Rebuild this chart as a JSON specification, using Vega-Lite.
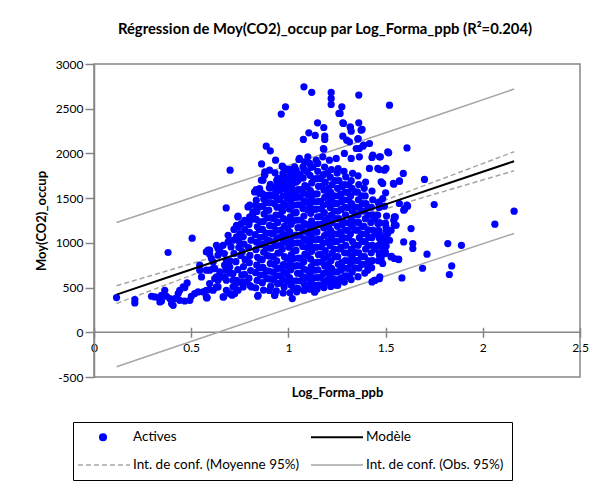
{
"$schema":"https://vega.github.io/schema/vega-lite/v6.json",
"autosize":{"type":"none"},
"width":486,"height":313,
"padding":{"left":94,"top":64,"right":22,"bottom":110},
"background":"white",
"config":{"font":"Lato","view":{"stroke":"#868686","strokeWidth":1.5},
"axisY":{"grid":false,"domainColor":"#868686","domainWidth":1.5,"tickColor":"#868686","tickWidth":1.5,"tickSize":9,"labelFontSize":12,"labelColor":"black","labelPadding":2,"titleFontSize":13,"titleFontWeight":"bold","titleColor":"black","titlePadding":7},
"axisX":{"grid":false,"domain":false,"tickColor":"#868686","tickWidth":1.5,"tickSize":10,"labelFontSize":12,"labelColor":"black","labelPadding":5,"titleFontSize":13,"titleFontWeight":"bold","titleColor":"black","titlePadding":33}},
"title":{"text":"Régression de Moy(CO2)_occup par Log_Forma_ppb (R²=0.204)","fontSize":14.8,"fontWeight":"bold","font":"Lato","color":"black","anchor":"middle","dx":-12,"offset":21},
"datasets":{
"zero":[{"x":0,"x2":2.5,"v":0}],
"fit":[
{"x":0.116,"mod":421.6,"mlo":322,"mhi":521,"olo":-385,"ohi":1228},
{"x":0.4,"mod":628.6,"mlo":555,"mhi":702,"olo":-175,"ohi":1432},
{"x":0.7,"mod":847.3,"mlo":799,"mhi":896,"olo":46,"ohi":1649},
{"x":0.9,"mod":993.1,"mlo":958,"mhi":1028,"olo":192,"ohi":1794},
{"x":1.1,"mod":1138.9,"mlo":1110,"mhi":1168,"olo":338,"ohi":1939},
{"x":1.3,"mod":1284.7,"mlo":1250,"mhi":1320,"olo":484,"ohi":2085},
{"x":1.5,"mod":1430.5,"mlo":1382,"mhi":1479,"olo":629,"ohi":2232},
{"x":1.8,"mod":1649.2,"mlo":1576,"mhi":1723,"olo":846,"ohi":2453},
{"x":2.161,"mod":1912.4,"mlo":1806,"mhi":2019,"olo":1105,"ohi":2720}
],
"pts":[
{"x":0.116,"y":388},{"x":0.21,"y":366},{"x":0.21,"y":328},{"x":0.296,"y":403},{"x":0.313,"y":395},{"x":0.335,"y":388},{"x":0.347,"y":414},{"x":0.364,"y":470},{"x":0.373,"y":403},{"x":0.39,"y":377},{"x":0.347,"y":350},{"x":0.339,"y":339},{"x":0.399,"y":321},{"x":0.407,"y":302},{"x":0.416,"y":377},{"x":0.433,"y":433},{"x":0.441,"y":470},{"x":0.459,"y":507},{"x":0.479,"y":552},{"x":0.467,"y":500},{"x":0.441,"y":358},{"x":0.467,"y":350},{"x":0.493,"y":358},{"x":0.501,"y":403},{"x":0.518,"y":433},{"x":0.535,"y":451},{"x":0.561,"y":451},{"x":0.578,"y":470},{"x":0.595,"y":477},{"x":0.582,"y":388},{"x":0.613,"y":470},{"x":0.63,"y":507},{"x":0.638,"y":582},{"x":0.63,"y":619},{"x":0.621,"y":713},{"x":0.595,"y":694},{"x":0.544,"y":694},{"x":0.553,"y":619},{"x":0.613,"y":787},{"x":0.604,"y":825},{"x":0.578,"y":899},{"x":0.595,"y":918},{"x":0.647,"y":918},{"x":0.638,"y":862},{"x":0.381,"y":892},{"x":0.505,"y":1052},
{"x":0.63,"y":973},{"x":0.67,"y":881},{"x":0.681,"y":806},{"x":0.678,"y":694},{"x":0.698,"y":731},{"x":0.656,"y":619},{"x":0.681,"y":582},{"x":0.715,"y":657},{"x":0.733,"y":582},{"x":0.715,"y":507},{"x":0.698,"y":433},{"x":0.741,"y":470},{"x":0.69,"y":1085},{"x":0.698,"y":1029},{"x":0.733,"y":1066},{"x":0.75,"y":1104},{"x":0.741,"y":1178},{"x":0.775,"y":1253},{"x":0.801,"y":1290},{"x":0.818,"y":1346},{"x":0.792,"y":1402},{"x":0.835,"y":1477},{"x":0.826,"y":1570},{"x":0.852,"y":1589},{"x":0.869,"y":1701},{"x":0.878,"y":1757},{"x":0.879,"y":1794},{"x":0.903,"y":1813},{"x":0.931,"y":1783},{"x":0.972,"y":1776},{"x":0.946,"y":1720},{"x":0.963,"y":1682},{"x":1.006,"y":1738},{"x":1.023,"y":1664},{"x":1.049,"y":1701},{"x":1.04,"y":1813},{"x":1.075,"y":1850},{"x":1.109,"y":1888},{"x":1.143,"y":1925},{"x":1.177,"y":1962},{"x":1.211,"y":1925},{"x":1.246,"y":1944},{"x":1.054,"y":1932},{"x":1.1,"y":1962},
{"x":0.70,"y":1813},{"x":0.68,"y":1391},{"x":0.74,"y":1290},{"x":1.08,"y":2745},{"x":1.12,"y":2683},{"x":0.985,"y":2521},{"x":0.963,"y":2440},{"x":0.886,"y":2081},{"x":0.907,"y":2029},{"x":0.862,"y":1883},{"x":0.934,"y":1925},{"x":0.968,"y":1857},{"x":1.006,"y":1821},{"x":1.15,"y":2342},{"x":1.105,"y":2230},{"x":1.138,"y":2201},{"x":1.077,"y":2156},{"x":1.187,"y":2193},{"x":1.187,"y":2156},{"x":1.18,"y":2055},{"x":1.22,"y":2682},{"x":1.22,"y":2615},{"x":1.22,"y":2548},{"x":1.26,"y":2447},
{"x":0.842,"y":403},{"x":0.93,"y":414},{"x":1.02,"y":377},{"x":1.136,"y":451},{"x":1.247,"y":526},{"x":0.71,"y":414},{"x":0.667,"y":395},{"x":0.58,"y":384},
{"x":1.362,"y":2652},{"x":1.52,"y":2540},{"x":1.275,"y":2521},{"x":1.266,"y":2447},{"x":1.28,"y":2342},{"x":1.318,"y":2297},{"x":1.323,"y":2249},{"x":1.379,"y":2268},{"x":1.362,"y":2342},{"x":1.28,"y":2193},{"x":1.30,"y":2148},{"x":1.314,"y":2130},{"x":1.359,"y":2167},{"x":1.387,"y":2093},{"x":1.365,"y":2055},{"x":1.516,"y":2007},{"x":1.61,"y":2062},{"x":1.473,"y":1962},{"x":1.43,"y":1955},{"x":1.591,"y":1776},{"x":1.571,"y":1693},{"x":1.542,"y":1656},{"x":1.70,"y":1709},{"x":1.75,"y":1429},{"x":1.61,"y":1421},{"x":1.598,"y":1384},{"x":1.593,"y":1365},{"x":1.55,"y":1290},{"x":1.542,"y":1253},{"x":1.554,"y":1197},{"x":1.631,"y":1160},{"x":1.593,"y":1010},{"x":1.64,"y":992},{"x":1.64,"y":937},{"x":1.713,"y":873},{"x":1.82,"y":992},{"x":1.89,"y":973},{"x":1.84,"y":742},{"x":1.828,"y":646},{"x":1.69,"y":716},{"x":1.584,"y":608},{"x":2.062,"y":1209},{"x":2.161,"y":1354},{"x":1.468,"y":1223},{"x":1.516,"y":1130},{"x":1.485,"y":937},{"x":1.53,"y":850},{"x":1.567,"y":817},{"x":1.43,"y":563},{"x":1.447,"y":582},{"x":1.47,"y":619},{"x":1.254,"y":526},{"x":1.187,"y":552},{"x":1.134,"y":451},
{"x":1.182,"y":2290},{"x":1.283,"y":2335},{"x":1.319,"y":2290},{"x":1.374,"y":2260},{"x":1.357,"y":2160},{"x":1.349,"y":2055},{"x":1.383,"y":2081},{"x":1.417,"y":2111},{"x":1.182,"y":2048},{"x":1.057,"y":1944},{"x":1.083,"y":1906},{"x":1.032,"y":1850},{"x":1.126,"y":1850},{"x":1.151,"y":1888},{"x":1.288,"y":2000},{"x":1.323,"y":1944},{"x":1.365,"y":1962},{"x":1.434,"y":1981},{"x":1.468,"y":1962},{"x":1.511,"y":2017},{"x":1.417,"y":1832},{"x":1.46,"y":1832},{"x":1.494,"y":1813},
{"x":0.741,"y":1298},{"x":0.733,"y":1197},{"x":0.758,"y":1216},{"x":0.784,"y":1234},{"x":0.801,"y":1421},{"x":0.818,"y":1328},{"x":0.715,"y":1029},{"x":0.69,"y":1010},{"x":0.664,"y":973},{"x":0.638,"y":937},{"x":0.587,"y":918},{"x":0.595,"y":873},{"x":0.544,"y":750},{"x":0.578,"y":694},{"x":0.613,"y":713},{"x":0.647,"y":675},{"x":0.672,"y":750},{"x":0.621,"y":600},{"x":0.672,"y":619},{"x":0.715,"y":582},{"x":0.595,"y":545},{"x":0.638,"y":507},{"x":0.681,"y":470},{"x":0.724,"y":433},{"x":0.578,"y":395},{"x":0.664,"y":395},{"x":0.767,"y":507},{"x":0.784,"y":563},{"x":0.81,"y":507},{"x":0.844,"y":414},{"x":0.929,"y":414},
{"x":1.083,"y":470},{"x":1.186,"y":563},{"x":1.228,"y":590},{"x":1.314,"y":619},{"x":1.408,"y":694},{"x":1.442,"y":582},{"x":1.468,"y":600},{"x":1.417,"y":750},{"x":1.477,"y":806},{"x":1.468,"y":862},{"x":1.485,"y":955},{"x":1.502,"y":1029},{"x":1.46,"y":1216},{"x":1.468,"y":1104},{"x":1.494,"y":1029},{"x":1.477,"y":992},
{"x":1.502,"y":1832},{"x":1.468,"y":1820},{"x":1.477,"y":1682},{"x":1.485,"y":1664},{"x":1.5,"y":1559},{"x":1.485,"y":1496},{"x":1.468,"y":1458},{"x":1.494,"y":1410},{"x":1.571,"y":1440},{"x":1.597,"y":1373},{"x":1.613,"y":1410},{"x":1.54,"y":1664},{"x":1.571,"y":1690},{"x":1.545,"y":1290},{"x":1.545,"y":1197},{"x":1.528,"y":1141},{"x":1.502,"y":1178},{"x":1.511,"y":1104},{"x":1.494,"y":1066},{"x":1.52,"y":1029},{"x":1.477,"y":1010},{"x":1.499,"y":899},{"x":1.477,"y":843},{"x":1.528,"y":843},{"x":1.545,"y":825},{"x":1.567,"y":813},{"x":1.485,"y":769},
{"x":0.972,"y":1850},{"x":0.992,"y":1821},{"x":1.015,"y":1805},{"x":0.878,"y":1768},{"x":0.861,"y":1701},{"x":0.852,"y":1608},{"x":0.835,"y":1596},{"x":0.852,"y":1552},{"x":0.963,"y":1701},{"x":0.972,"y":1608},{"x":1.006,"y":1645},{"x":1.032,"y":1738},{"x":1.049,"y":1701},{"x":0.955,"y":1589},{"x":0.997,"y":1552},{"x":0.903,"y":1533},{"x":1.04,"y":1533},{"x":0.938,"y":1514},
{"x":0.70,"y":800},{"x":0.72,"y":880},{"x":0.745,"y":950},{"x":0.705,"y":955},{"x":0.73,"y":790},{"x":0.755,"y":860},{"x":0.745,"y":1020},{"x":0.72,"y":1150},{"x":0.70,"y":660},{"x":0.74,"y":700},{"x":0.76,"y":640},{"x":0.75,"y":560},{"x":0.725,"y":510},
{"x":0.766,"y":565},{"x":0.774,"y":648},{"x":0.769,"y":735},{"x":0.777,"y":812},{"x":0.763,"y":902},{"x":0.772,"y":985},{"x":0.768,"y":1070},{"x":0.775,"y":1148},
{"x":0.803,"y":522},{"x":0.797,"y":605},{"x":0.806,"y":690},{"x":0.799,"y":778},{"x":0.802,"y":860},{"x":0.795,"y":948},{"x":0.808,"y":1030},{"x":0.8,"y":1118},{"x":0.797,"y":1205},{"x":0.805,"y":1255},
{"x":0.832,"y":498},{"x":0.839,"y":580},{"x":0.83,"y":668},{"x":0.837,"y":752},{"x":0.841,"y":838},{"x":0.833,"y":925},{"x":0.836,"y":1008},{"x":0.829,"y":1092},{"x":0.84,"y":1180},{"x":0.834,"y":1262},{"x":0.838,"y":1350},{"x":0.831,"y":1418},
{"x":0.872,"y":472},{"x":0.866,"y":555},{"x":0.874,"y":642},{"x":0.869,"y":725},{"x":0.865,"y":812},{"x":0.873,"y":895},{"x":0.87,"y":982},{"x":0.876,"y":1068},{"x":0.867,"y":1150},{"x":0.871,"y":1238},{"x":0.875,"y":1322},{"x":0.868,"y":1410},{"x":0.873,"y":1490},{"x":0.866,"y":1552},
{"x":0.902,"y":468},{"x":0.909,"y":515},{"x":0.904,"y":598},{"x":0.9,"y":685},{"x":0.907,"y":770},{"x":0.903,"y":852},{"x":0.91,"y":940},{"x":0.901,"y":1025},{"x":0.906,"y":1110},{"x":0.903,"y":1195},{"x":0.908,"y":1280},{"x":0.899,"y":1365},{"x":0.905,"y":1450},{"x":0.911,"y":1535},{"x":0.902,"y":1615},{"x":0.907,"y":1655},
{"x":0.938,"y":462},{"x":0.944,"y":545},{"x":0.937,"y":630},{"x":0.943,"y":712},{"x":0.94,"y":798},{"x":0.946,"y":885},{"x":0.935,"y":970},{"x":0.942,"y":1055},{"x":0.939,"y":1140},{"x":0.945,"y":1228},{"x":0.936,"y":1310},{"x":0.941,"y":1398},{"x":0.947,"y":1482},{"x":0.938,"y":1568},{"x":0.943,"y":1650},{"x":0.94,"y":1700},
{"x":0.973,"y":440},{"x":0.978,"y":505},{"x":0.971,"y":590},{"x":0.977,"y":675},{"x":0.974,"y":758},{"x":0.98,"y":845},{"x":0.969,"y":930},{"x":0.976,"y":1015},{"x":0.972,"y":1100},{"x":0.979,"y":1185},{"x":0.975,"y":1270},{"x":0.97,"y":1355},{"x":0.977,"y":1440},{"x":0.973,"y":1525},{"x":0.98,"y":1610},{"x":0.971,"y":1695},{"x":0.976,"y":1750},
{"x":1.008,"y":442},{"x":1.013,"y":528},{"x":1.006,"y":612},{"x":1.012,"y":698},{"x":1.009,"y":782},{"x":1.015,"y":868},{"x":1.004,"y":952},{"x":1.011,"y":1038},{"x":1.007,"y":1122},{"x":1.014,"y":1208},{"x":1.01,"y":1292},{"x":1.005,"y":1378},{"x":1.012,"y":1462},{"x":1.008,"y":1548},{"x":1.015,"y":1632},{"x":1.006,"y":1718},{"x":1.011,"y":1778},
{"x":1.043,"y":452},{"x":1.048,"y":490},{"x":1.041,"y":575},{"x":1.047,"y":660},{"x":1.044,"y":745},{"x":1.05,"y":830},{"x":1.039,"y":915},{"x":1.046,"y":1000},{"x":1.042,"y":1085},{"x":1.049,"y":1170},{"x":1.045,"y":1255},{"x":1.04,"y":1340},{"x":1.047,"y":1425},{"x":1.043,"y":1510},{"x":1.05,"y":1595},{"x":1.041,"y":1680},{"x":1.046,"y":1765},
{"x":1.078,"y":470},{"x":1.083,"y":535},{"x":1.076,"y":620},{"x":1.082,"y":705},{"x":1.079,"y":790},{"x":1.085,"y":875},{"x":1.074,"y":960},{"x":1.081,"y":1045},{"x":1.077,"y":1130},{"x":1.084,"y":1215},{"x":1.08,"y":1300},{"x":1.075,"y":1385},{"x":1.082,"y":1470},{"x":1.078,"y":1555},{"x":1.085,"y":1640},{"x":1.076,"y":1725},{"x":1.081,"y":1815},
{"x":1.113,"y":482},{"x":1.118,"y":565},{"x":1.111,"y":650},{"x":1.117,"y":735},{"x":1.114,"y":820},{"x":1.12,"y":905},{"x":1.109,"y":990},{"x":1.116,"y":1075},{"x":1.112,"y":1160},{"x":1.119,"y":1245},{"x":1.115,"y":1330},{"x":1.11,"y":1415},{"x":1.117,"y":1500},{"x":1.113,"y":1585},{"x":1.12,"y":1670},{"x":1.111,"y":1755},{"x":1.116,"y":1845},
{"x":1.148,"y":485},{"x":1.153,"y":528},{"x":1.146,"y":612},{"x":1.152,"y":698},{"x":1.149,"y":782},{"x":1.155,"y":868},{"x":1.144,"y":952},{"x":1.151,"y":1038},{"x":1.147,"y":1122},{"x":1.154,"y":1208},{"x":1.15,"y":1292},{"x":1.145,"y":1378},{"x":1.152,"y":1462},{"x":1.148,"y":1548},{"x":1.155,"y":1632},{"x":1.146,"y":1718},{"x":1.151,"y":1800},
{"x":1.183,"y":500},{"x":1.188,"y":572},{"x":1.181,"y":658},{"x":1.187,"y":742},{"x":1.184,"y":828},{"x":1.19,"y":912},{"x":1.179,"y":998},{"x":1.186,"y":1082},{"x":1.182,"y":1168},{"x":1.189,"y":1252},{"x":1.185,"y":1338},{"x":1.18,"y":1422},{"x":1.187,"y":1508},{"x":1.183,"y":1592},{"x":1.19,"y":1678},{"x":1.181,"y":1762},{"x":1.186,"y":1848},
{"x":1.218,"y":512},{"x":1.223,"y":545},{"x":1.216,"y":630},{"x":1.222,"y":715},{"x":1.219,"y":800},{"x":1.225,"y":885},{"x":1.214,"y":970},{"x":1.221,"y":1055},{"x":1.217,"y":1140},{"x":1.224,"y":1225},{"x":1.22,"y":1310},{"x":1.215,"y":1395},{"x":1.222,"y":1480},{"x":1.218,"y":1565},{"x":1.225,"y":1650},{"x":1.216,"y":1735},{"x":1.221,"y":1820},
{"x":1.253,"y":540},{"x":1.258,"y":590},{"x":1.251,"y":675},{"x":1.257,"y":760},{"x":1.254,"y":845},{"x":1.26,"y":930},{"x":1.249,"y":1015},{"x":1.256,"y":1100},{"x":1.252,"y":1185},{"x":1.259,"y":1270},{"x":1.255,"y":1355},{"x":1.25,"y":1440},{"x":1.257,"y":1525},{"x":1.253,"y":1610},{"x":1.26,"y":1695},{"x":1.251,"y":1780},{"x":1.256,"y":1830},
{"x":1.288,"y":562},{"x":1.293,"y":632},{"x":1.286,"y":718},{"x":1.292,"y":802},{"x":1.289,"y":888},{"x":1.295,"y":972},{"x":1.284,"y":1058},{"x":1.291,"y":1142},{"x":1.287,"y":1228},{"x":1.294,"y":1312},{"x":1.29,"y":1398},{"x":1.285,"y":1482},{"x":1.292,"y":1568},{"x":1.288,"y":1652},{"x":1.295,"y":1738},{"x":1.286,"y":1800},
{"x":1.323,"y":590},{"x":1.328,"y":675},{"x":1.321,"y":760},{"x":1.327,"y":845},{"x":1.324,"y":930},{"x":1.33,"y":1015},{"x":1.319,"y":1100},{"x":1.326,"y":1185},{"x":1.322,"y":1270},{"x":1.329,"y":1355},{"x":1.325,"y":1440},{"x":1.32,"y":1525},{"x":1.327,"y":1610},{"x":1.323,"y":1695},{"x":1.33,"y":1778},
{"x":1.358,"y":622},{"x":1.363,"y":718},{"x":1.356,"y":802},{"x":1.362,"y":888},{"x":1.359,"y":972},{"x":1.365,"y":1058},{"x":1.354,"y":1142},{"x":1.361,"y":1228},{"x":1.357,"y":1312},{"x":1.364,"y":1398},{"x":1.36,"y":1482},{"x":1.355,"y":1568},{"x":1.362,"y":1652},{"x":1.358,"y":1750},
{"x":1.393,"y":662},{"x":1.398,"y":760},{"x":1.391,"y":845},{"x":1.397,"y":930},{"x":1.394,"y":1015},{"x":1.4,"y":1100},{"x":1.389,"y":1185},{"x":1.396,"y":1270},{"x":1.392,"y":1355},{"x":1.399,"y":1440},{"x":1.395,"y":1525},{"x":1.39,"y":1610},{"x":1.397,"y":1680},
{"x":1.428,"y":722},{"x":1.433,"y":802},{"x":1.426,"y":888},{"x":1.432,"y":972},{"x":1.429,"y":1058},{"x":1.435,"y":1142},{"x":1.424,"y":1228},{"x":1.431,"y":1312},{"x":1.427,"y":1398},{"x":1.434,"y":1482},{"x":1.43,"y":1580},
{"x":1.463,"y":800},{"x":1.468,"y":885},{"x":1.461,"y":970},{"x":1.467,"y":1055},{"x":1.464,"y":1140},{"x":1.47,"y":1225},{"x":1.459,"y":1310},{"x":1.466,"y":1395},{"x":1.462,"y":1450},
{"x":1.498,"y":880},{"x":1.503,"y":965},{"x":1.496,"y":1050},{"x":1.502,"y":1135},{"x":1.499,"y":1220},{"x":1.505,"y":1300},
{"x":0.855,"y":640},{"x":0.851,"y":722},{"x":0.856,"y":812},{"x":0.852,"y":980},{"x":0.857,"y":1062},{"x":0.85,"y":1150},{"x":0.854,"y":1236},{"x":0.853,"y":1405},
{"x":0.889,"y":600},{"x":0.886,"y":688},{"x":0.891,"y":858},{"x":0.887,"y":940},{"x":0.89,"y":1030},{"x":0.885,"y":1110},{"x":0.892,"y":1280},{"x":0.888,"y":1362},{"x":0.886,"y":1452},{"x":0.89,"y":1530},
{"x":0.923,"y":590},{"x":0.921,"y":672},{"x":0.926,"y":760},{"x":0.922,"y":845},{"x":0.925,"y":1012},{"x":0.92,"y":1100},{"x":0.924,"y":1185},{"x":0.922,"y":1272},{"x":0.927,"y":1440},{"x":0.921,"y":1525},{"x":0.925,"y":1610},
{"x":0.958,"y":550},{"x":0.955,"y":632},{"x":0.96,"y":718},{"x":0.956,"y":888},{"x":0.959,"y":972},{"x":0.954,"y":1058},{"x":0.961,"y":1142},{"x":0.957,"y":1312},{"x":0.959,"y":1398},{"x":0.955,"y":1482},{"x":0.96,"y":1650},
{"x":0.993,"y":570},{"x":0.99,"y":655},{"x":0.995,"y":740},{"x":0.991,"y":825},{"x":0.994,"y":995},{"x":0.989,"y":1080},{"x":0.996,"y":1165},{"x":0.992,"y":1250},{"x":0.99,"y":1420},{"x":0.995,"y":1505},{"x":0.991,"y":1590},{"x":0.994,"y":1675},
{"x":1.028,"y":490},{"x":1.025,"y":572},{"x":1.03,"y":740},{"x":1.026,"y":825},{"x":1.029,"y":910},{"x":1.024,"y":995},{"x":1.031,"y":1080},{"x":1.027,"y":1250},{"x":1.029,"y":1335},{"x":1.025,"y":1420},{"x":1.03,"y":1505},{"x":1.026,"y":1590},
{"x":1.063,"y":575},{"x":1.06,"y":660},{"x":1.065,"y":745},{"x":1.061,"y":830},{"x":1.064,"y":1000},{"x":1.059,"y":1085},{"x":1.066,"y":1170},{"x":1.062,"y":1255},{"x":1.064,"y":1425},{"x":1.06,"y":1510},{"x":1.065,"y":1595},{"x":1.061,"y":1765},
{"x":1.098,"y":520},{"x":1.095,"y":605},{"x":1.1,"y":690},{"x":1.096,"y":860},{"x":1.099,"y":945},{"x":1.094,"y":1030},{"x":1.101,"y":1115},{"x":1.097,"y":1200},{"x":1.099,"y":1370},{"x":1.095,"y":1455},{"x":1.1,"y":1540},{"x":1.096,"y":1625},{"x":1.098,"y":1790},
{"x":1.133,"y":525},{"x":1.13,"y":610},{"x":1.135,"y":695},{"x":1.131,"y":780},{"x":1.134,"y":950},{"x":1.129,"y":1035},{"x":1.136,"y":1120},{"x":1.132,"y":1205},{"x":1.134,"y":1375},{"x":1.13,"y":1460},{"x":1.135,"y":1545},{"x":1.131,"y":1715},
{"x":1.168,"y":530},{"x":1.165,"y":615},{"x":1.17,"y":785},{"x":1.166,"y":870},{"x":1.169,"y":955},{"x":1.164,"y":1040},{"x":1.171,"y":1210},{"x":1.167,"y":1295},{"x":1.169,"y":1380},{"x":1.165,"y":1465},{"x":1.17,"y":1635},{"x":1.166,"y":1720},
{"x":1.203,"y":590},{"x":1.2,"y":675},{"x":1.205,"y":760},{"x":1.201,"y":845},{"x":1.204,"y":1015},{"x":1.199,"y":1100},{"x":1.206,"y":1185},{"x":1.202,"y":1270},{"x":1.204,"y":1440},{"x":1.2,"y":1525},{"x":1.205,"y":1610},{"x":1.201,"y":1780},
{"x":1.238,"y":590},{"x":1.235,"y":675},{"x":1.24,"y":845},{"x":1.236,"y":930},{"x":1.239,"y":1015},{"x":1.234,"y":1100},{"x":1.241,"y":1270},{"x":1.237,"y":1355},{"x":1.239,"y":1440},{"x":1.235,"y":1525},{"x":1.24,"y":1695},
{"x":1.273,"y":610},{"x":1.27,"y":695},{"x":1.275,"y":780},{"x":1.271,"y":950},{"x":1.274,"y":1035},{"x":1.269,"y":1120},{"x":1.276,"y":1205},{"x":1.272,"y":1375},{"x":1.274,"y":1460},{"x":1.27,"y":1545},{"x":1.275,"y":1630},
{"x":1.308,"y":630},{"x":1.305,"y":715},{"x":1.31,"y":800},{"x":1.306,"y":885},{"x":1.309,"y":1055},{"x":1.304,"y":1140},{"x":1.311,"y":1225},{"x":1.307,"y":1395},{"x":1.309,"y":1480},{"x":1.305,"y":1565},{"x":1.31,"y":1650},
{"x":1.343,"y":720},{"x":1.34,"y":805},{"x":1.345,"y":890},{"x":1.341,"y":975},{"x":1.344,"y":1145},{"x":1.339,"y":1230},{"x":1.346,"y":1315},{"x":1.342,"y":1400},{"x":1.344,"y":1570},
{"x":1.378,"y":760},{"x":1.375,"y":845},{"x":1.38,"y":1015},{"x":1.376,"y":1100},{"x":1.379,"y":1185},{"x":1.374,"y":1355},{"x":1.381,"y":1440},{"x":1.377,"y":1525},
{"x":1.413,"y":800},{"x":1.41,"y":970},{"x":1.415,"y":1060},{"x":1.411,"y":1145},{"x":1.414,"y":1310},{"x":1.41,"y":1400},{"x":1.445,"y":930},{"x":1.447,"y":1100},{"x":1.444,"y":1270}
]},
"encoding":{"x":{"field":"x","type":"quantitative","scale":{"domain":[0,2.5],"nice":false,"zero":false},"title":"Log_Forma_ppb","axis":{"offset":-49.71,"values":[0,0.5,1,1.5,2,2.5],"labelExpr":"datum.value + ''","labelFlush":false}}},
"layer":[
{"data":{"name":"zero"},"mark":{"type":"rule","color":"#868686","strokeWidth":1.5},"encoding":{"x2":{"field":"x2"},"y":{"field":"v","type":"quantitative","scale":{"domain":[-500,3000],"nice":false},"title":"Moy(CO2)_occup","axis":{"values":[-500,0,500,1000,1500,2000,2500,3000],"labelExpr":"datum.value + ''"}}}},
{"data":{"name":"fit"},"mark":{"type":"line","strokeWidth":1.5,"color":"#a6a6a6"},"encoding":{"y":{"field":"ohi","type":"quantitative","scale":{"domain":[-500,3000],"nice":false},"title":"Moy(CO2)_occup","axis":{"values":[-500,0,500,1000,1500,2000,2500,3000],"labelExpr":"datum.value + ''"}}}},
{"data":{"name":"fit"},"mark":{"type":"line","strokeWidth":1.5,"color":"#a6a6a6"},"encoding":{"y":{"field":"olo","type":"quantitative","scale":{"domain":[-500,3000],"nice":false},"title":"Moy(CO2)_occup","axis":{"values":[-500,0,500,1000,1500,2000,2500,3000],"labelExpr":"datum.value + ''"}}}},
{"data":{"name":"fit"},"mark":{"type":"line","strokeWidth":1.5,"strokeDash":[5,3],"color":"#a6a6a6"},"encoding":{"y":{"field":"mhi","type":"quantitative","scale":{"domain":[-500,3000],"nice":false},"title":"Moy(CO2)_occup","axis":{"values":[-500,0,500,1000,1500,2000,2500,3000],"labelExpr":"datum.value + ''"}}}},
{"data":{"name":"fit"},"mark":{"type":"line","strokeWidth":1.5,"strokeDash":[5,3],"color":"#a6a6a6"},"encoding":{"y":{"field":"mlo","type":"quantitative","scale":{"domain":[-500,3000],"nice":false},"title":"Moy(CO2)_occup","axis":{"values":[-500,0,500,1000,1500,2000,2500,3000],"labelExpr":"datum.value + ''"}}}},
{"data":{"name":"pts"},"mark":{"type":"circle","size":52,"opacity":1,"color":"#0000ff"},"encoding":{"y":{"field":"y","type":"quantitative","scale":{"domain":[-500,3000],"nice":false},"title":"Moy(CO2)_occup","axis":{"values":[-500,0,500,1000,1500,2000,2500,3000],"labelExpr":"datum.value + ''"}}}},
{"data":{"name":"fit"},"mark":{"type":"line","strokeWidth":2,"color":"#000000"},"encoding":{"y":{"field":"mod","type":"quantitative","scale":{"domain":[-500,3000],"nice":false},"title":"Moy(CO2)_occup","axis":{"values":[-500,0,500,1000,1500,2000,2500,3000],"labelExpr":"datum.value + ''"}}}},
{"data":{"name":"fit"},"mark":{"type":"point","filled":false,"opacity":0},"encoding":{"y":{"field":"mod","type":"quantitative","scale":{"domain":[-500,3000],"nice":false},"title":"Moy(CO2)_occup","axis":{"values":[-500,0,500,1000,1500,2000,2500,3000],"labelExpr":"datum.value + ''"}},
"color":{"datum":"Actives","scale":{"domain":["Actives","Modèle","Int. de conf. (Moyenne 95%)","Int. de conf. (Obs. 95%)"],"range":["#0000ff","#000000","#a6a6a6","#a6a6a6"]},
"legend":{"title":null,"orient":"none","legendX":-21,"legendY":358,"direction":"horizontal","columns":2,"gridAlign":"all","columnPadding":7,"rowPadding":14,"padding":8,"strokeColor":"black","labelFontSize":13.5,"labelColor":"black","labelLimit":400,"labelOffset":38,"symbolSize":144,"symbolOffset":0,"symbolOpacity":1,"symbolStrokeWidth":1.5,"symbolFillColor":"transparent"}},
"shape":{"datum":"Actives","scale":{"domain":["Actives","Modèle","Int. de conf. (Moyenne 95%)","Int. de conf. (Obs. 95%)"],"range":["M3.05,0A0.55,0.55 0 1,0 1.95,0A0.55,0.55 0 1,0 3.05,0M2.8,0A0.3,0.3 0 1,0 2.2,0A0.3,0.3 0 1,0 2.8,0M2.58,0A0.08,0.08 0 1,0 2.42,0A0.08,0.08 0 1,0 2.58,0","M-1.667,-0.04L7,-0.04M-1.667,0.04L7,0.04","M-1.667,0L-0.833,0M-0.333,0L0.5,0M1,0L1.833,0M2.333,0L3.167,0M3.667,0L4.5,0M5,0L5.833,0M6.333,0L7,0","M-1.667,0L7,0"]},
"legend":{"title":null,"orient":"none","legendX":-21,"legendY":358,"direction":"horizontal","columns":2,"gridAlign":"all","columnPadding":7,"rowPadding":14,"padding":8,"strokeColor":"black","labelFontSize":13.5,"labelColor":"black","labelLimit":400,"labelOffset":38,"symbolSize":144,"symbolOffset":0,"symbolOpacity":1,"symbolStrokeWidth":1.5,"symbolFillColor":"transparent"}}}}
]
}
